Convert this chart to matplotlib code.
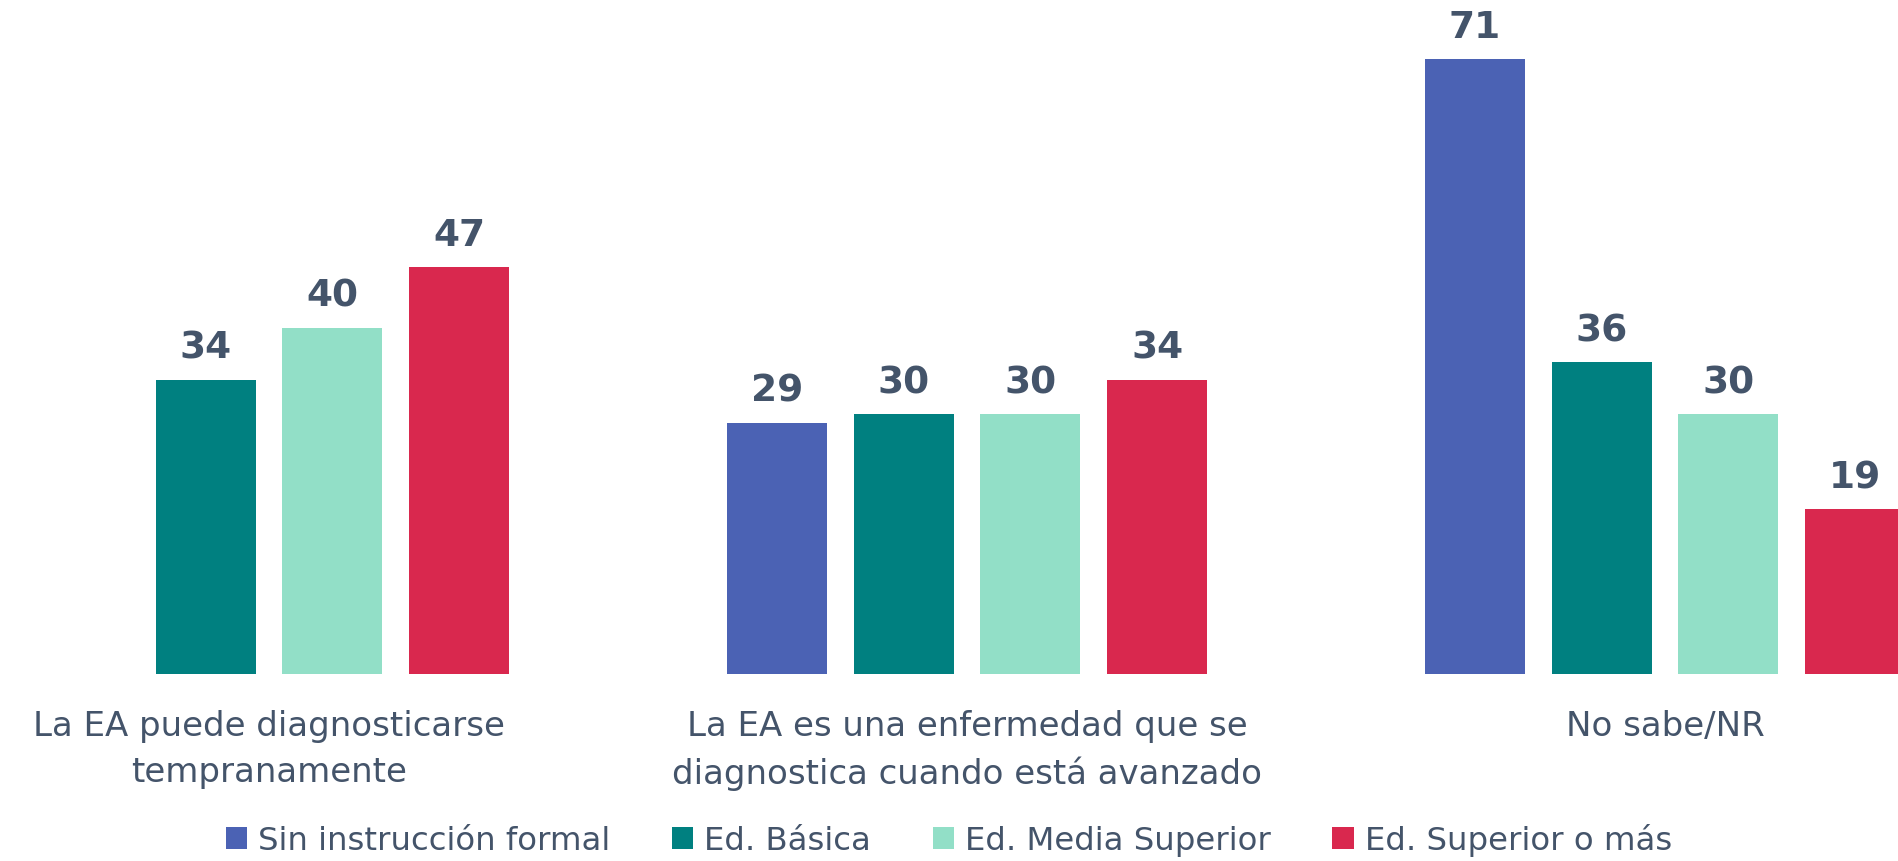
import matplotlib
matplotlib.use("Agg")
import matplotlib.pyplot as plt
from matplotlib.patches import Patch
import numpy as np

categories = ["La EA puede diagnosticarse\ntempranamente",
              "La EA es una enfermedad que se\ndiagnostica cuando está avanzado",
              "No sabe/NR"]
series_names = ["Sin instrucción formal", "Ed. Básica", "Ed. Media Superior", "Ed. Superior o más"]
sin_instruccion = [None, 29, 71]
ed_basica = [34, 30, 36]
ed_media = [40, 30, 30]
ed_superior = [47, 34, 19]
colors = ["#4B62B4", "#008080", "#92DFC7", "#D9284E"]
text_color = "#44546A"

plt.rcParams['font.family'] = ['DejaVu Sans']

W, H = 1898, 862
fig = plt.figure(figsize=(W / 100, H / 100), dpi=100)
base_px = 675
ax = fig.add_axes([0, (H - base_px) / H, 1, base_px / H])

group_px = 698.0
center0 = 269.0
ax.set_xlim((0 - center0) / group_px, (W - center0) / group_px)
ax.set_ylim(0, base_px / 8.66)

bar_w = 100 / group_px
pitch = 126.7 / group_px
x = np.arange(len(categories))
all_series = [sin_instruccion, ed_basica, ed_media, ed_superior]
for i, (vals, col) in enumerate(zip(all_series, colors)):
    offs = (i - 1.5) * pitch
    for xi, v in zip(x, vals):
        if v is None:
            continue
        ax.bar(xi + offs, v, width=bar_w, color=col, linewidth=0)
        ax.annotate(f"{v}", (xi + offs, v), xytext=(0, 10), textcoords="offset points",
                    ha="center", va="bottom", fontsize=27, fontweight="bold", color=text_color)

for xi, lab in zip(x, categories):
    ax.annotate(lab, (xi, 0), xytext=(0, -25), textcoords="offset points",
                ha="center", va="top", fontsize=24.5, color=text_color,
                multialignment="center", linespacing=1.5, annotation_clip=False)

for s in ax.spines.values():
    s.set_visible(False)
ax.set_xticks([])
ax.set_yticks([])

handles = [Patch(facecolor=c, edgecolor="none") for c in colors]
leg = fig.legend(handles, series_names, loc="center", bbox_to_anchor=(0.5, 1 - 841 / H),
                 ncol=4, frameon=False, fontsize=23.3, handlelength=0.65, handleheight=0.65,
                 handletextpad=0.35, columnspacing=1.9, borderaxespad=0, borderpad=0)
for t in leg.get_texts():
    t.set_color(text_color)

fig.savefig("out.png", dpi=100)
